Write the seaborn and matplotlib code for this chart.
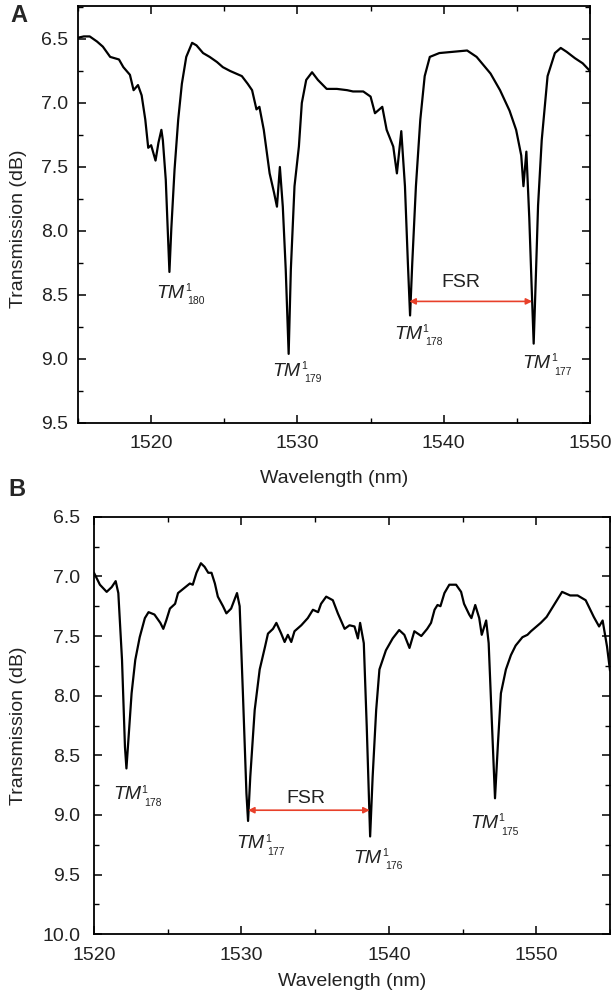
import numpy as np
import pandas as pd
import matplotlib
matplotlib.use("Agg")
import matplotlib.pyplot as plt
from matplotlib.ticker import MultipleLocator, FormatStrFormatter
import seaborn as sns

# ---------------- data ----------------
wl_a = [1515.0, 1515.4, 1515.8, 1516.3, 1516.7, 1517.2, 1517.8, 1518.1, 1518.55, 1518.8,
        1519.1, 1519.35, 1519.6, 1519.8, 1520.0, 1520.3, 1520.5, 1520.7, 1520.8, 1521.0,
        1521.12, 1521.25, 1521.38, 1521.6, 1521.85, 1522.1, 1522.4, 1522.8, 1523.1, 1523.55,
        1524.0, 1524.5, 1524.9, 1525.4, 1525.8, 1526.2, 1526.6, 1526.9, 1527.2, 1527.4,
        1527.7, 1528.1, 1528.4, 1528.6, 1528.8, 1529.0, 1529.2, 1529.4, 1529.55, 1529.8,
        1530.1, 1530.3, 1530.6, 1531.0, 1531.4, 1532.0, 1532.7, 1533.4, 1533.8, 1534.5,
        1535.0, 1535.3, 1535.8, 1536.1, 1536.55, 1536.8, 1537.1, 1537.35, 1537.55, 1537.7,
        1537.85, 1538.1, 1538.4, 1538.7, 1539.05, 1539.7, 1540.65, 1541.6, 1542.25, 1543.2,
        1543.85, 1544.5, 1544.95, 1545.3, 1545.45, 1545.65, 1545.85, 1546.0, 1546.15, 1546.3,
        1546.45, 1546.7, 1547.1, 1547.6, 1548.0, 1548.4, 1548.97, 1549.5, 1550.0]
tr_a = [6.49, 6.48, 6.48, 6.52, 6.56, 6.64, 6.66, 6.72, 6.78, 6.90,
        6.86, 6.94, 7.13, 7.35, 7.33, 7.45, 7.31, 7.21, 7.29, 7.60,
        7.95, 8.32, 7.98, 7.52, 7.13, 6.85, 6.64, 6.53, 6.55, 6.61,
        6.64, 6.68, 6.72, 6.75, 6.77, 6.79, 6.85, 6.90, 7.05, 7.03,
        7.21, 7.55, 7.70, 7.81, 7.50, 7.81, 8.30, 8.96, 8.30, 7.65,
        7.34, 7.00, 6.82, 6.76, 6.82, 6.89, 6.89, 6.90, 6.91, 6.91,
        6.95, 7.08, 7.03, 7.21, 7.34, 7.55, 7.22, 7.65, 8.25, 8.66,
        8.25, 7.65, 7.13, 6.79, 6.64, 6.61, 6.60, 6.59, 6.64, 6.77,
        6.90, 7.06, 7.21, 7.41, 7.65, 7.38, 7.90, 8.40, 8.88, 8.35,
        7.80, 7.29, 6.79, 6.61, 6.57, 6.60, 6.65, 6.69, 6.75]

wl_b = [1520.0, 1520.4, 1520.86, 1521.2, 1521.47, 1521.65, 1521.9, 1522.1, 1522.2, 1522.3,
        1522.55, 1522.8, 1523.1, 1523.45, 1523.7, 1524.1, 1524.5, 1524.7, 1524.9, 1525.15,
        1525.5, 1525.7, 1526.2, 1526.5, 1526.7, 1526.95, 1527.25, 1527.5, 1527.75, 1527.97,
        1528.2, 1528.4, 1528.75, 1528.98, 1529.3, 1529.7, 1529.88, 1530.1, 1530.34, 1530.45,
        1530.6, 1530.9, 1531.24, 1531.6, 1531.8, 1532.14, 1532.37, 1532.7, 1532.93, 1533.15,
        1533.38, 1533.6, 1534.06, 1534.5, 1534.85, 1535.2, 1535.4, 1535.75, 1536.2, 1536.54,
        1537.0, 1537.33, 1537.67, 1537.9, 1538.05, 1538.3, 1538.5, 1538.73, 1538.9, 1539.14,
        1539.36, 1539.8, 1540.26, 1540.7, 1541.05, 1541.4, 1541.73, 1542.2, 1542.6, 1542.86,
        1543.1, 1543.3, 1543.5, 1543.77, 1544.1, 1544.56, 1544.9, 1545.1, 1545.45, 1545.6,
        1545.86, 1546.13, 1546.3, 1546.6, 1546.77, 1547.0, 1547.2, 1547.4, 1547.6, 1547.94,
        1548.28, 1548.6, 1549.06, 1549.4, 1549.64, 1550.3, 1550.7, 1551.2, 1551.75, 1552.3,
        1552.8, 1553.35, 1553.9, 1554.26, 1554.5, 1554.8, 1555.0]
tr_b = [6.97, 7.07, 7.13, 7.09, 7.04, 7.14, 7.70, 8.43, 8.61, 8.43,
        7.98, 7.70, 7.51, 7.35, 7.30, 7.32, 7.39, 7.44, 7.37, 7.27,
        7.23, 7.14, 7.09, 7.06, 7.07, 6.97, 6.89, 6.92, 6.97, 6.97,
        7.06, 7.17, 7.25, 7.31, 7.27, 7.14, 7.25, 7.98, 8.82, 9.05,
        8.68, 8.12, 7.78, 7.59, 7.48, 7.44, 7.39, 7.48, 7.55, 7.49,
        7.55, 7.46, 7.41, 7.35, 7.28, 7.30, 7.23, 7.17, 7.20, 7.31,
        7.44, 7.41, 7.42, 7.52, 7.39, 7.56, 8.26, 9.18, 8.68, 8.12,
        7.78, 7.62, 7.52, 7.45, 7.49, 7.60, 7.46, 7.50, 7.44, 7.39,
        7.28, 7.24, 7.25, 7.14, 7.07, 7.07, 7.13, 7.23, 7.32, 7.35,
        7.24, 7.35, 7.49, 7.37, 7.56, 8.26, 8.86, 8.40, 7.98, 7.78,
        7.66, 7.58, 7.51, 7.49, 7.46, 7.39, 7.34, 7.24, 7.13, 7.16,
        7.16, 7.20, 7.34, 7.42, 7.37, 7.59, 7.79]

# mode labels: (x of left edge, baseline y, subscript order number)
modes_a_x = [1520.35, 1528.3, 1536.6, 1545.4]
modes_a_y = [8.52, 9.13, 8.84, 9.07]
modes_a_n = ["180", "179", "178", "177"]
modes_b_x = [1521.3, 1529.65, 1537.6, 1545.5]
modes_b_y = [8.87, 9.28, 9.40, 9.11]
modes_b_n = ["178", "177", "176", "175"]

# FSR arrows: (start, end, y) and label position
fsr_a = (1537.65, 1546.05, 8.55)
fsr_a_text = (1541.2, 8.435)
fsr_b = (1530.45, 1538.7, 8.96)
fsr_b_text = (1534.4, 8.90)

yticks_a = [6.5, 7.0, 7.5, 8.0, 8.5, 9.0, 9.5]
yticks_b = [6.5, 7.0, 7.5, 8.0, 8.5, 9.0, 9.5, 10.0]
xticks_a = [1520, 1530, 1540, 1550]
xticks_b = [1520, 1530, 1540, 1550]

# ---------------- style ----------------
sns.set_theme(style="ticks")
plt.rcParams["font.family"] = ["Liberation Sans", "DejaVu Sans"]
plt.rcParams["axes.linewidth"] = 1.3
plt.rcParams["xtick.major.width"] = 1.1
plt.rcParams["ytick.major.width"] = 1.1
plt.rcParams["xtick.minor.width"] = 1.0
plt.rcParams["ytick.minor.width"] = 1.0

FS = 14
RED = "#e8402a"

fig = plt.figure(figsize=(6.11, 9.99), dpi=100)
W, H = 611.0, 999.0
ax1 = fig.add_axes([78 / W, 1 - 423 / H, 512 / W, 417.3 / H])
ax2 = fig.add_axes([94 / W, 1 - 934.3 / H, 516 / W, 417.6 / H])

df_a = pd.DataFrame({"wl": wl_a, "tr": tr_a})
df_b = pd.DataFrame({"wl": wl_b, "tr": tr_b})
sns.lineplot(data=df_a, x="wl", y="tr", ax=ax1, color="black", linewidth=1.6,
             estimator=None, sort=False)
sns.lineplot(data=df_b, x="wl", y="tr", ax=ax2, color="black", linewidth=1.6,
             estimator=None, sort=False)


def style_axes(ax, xlim, ylim, xticks, yticks, ypad):
    ax.set_xlim(*xlim)
    ax.set_ylim(*ylim)
    ax.set_xticks(xticks)
    ax.set_yticks(yticks)
    ax.xaxis.set_minor_locator(MultipleLocator(5))
    ax.yaxis.set_minor_locator(MultipleLocator(0.25))
    ax.yaxis.set_major_formatter(FormatStrFormatter("%.1f"))
    ax.tick_params(which="both", direction="in", top=True, right=True,
                   colors="black", labelsize=FS, labelcolor="#222222")
    ax.tick_params(which="major", length=6)
    ax.tick_params(which="minor", length=3.5)
    ax.tick_params(axis="x", which="major", pad=9)
    ax.tick_params(axis="y", which="major", pad=ypad)
    for s in ax.spines.values():
        s.set_visible(True)
        s.set_color("black")
        s.set_linewidth(1.3)
    ax.set_facecolor("white")


style_axes(ax1, (1515, 1550), (9.5, 6.24), xticks_a, yticks_a, 7)
style_axes(ax2, (1520, 1555), (10.0, 6.5), xticks_b, yticks_b, 10)

for ax, lx, ly, lyy in [(ax1, -0.10, 0.465, -0.112), (ax2, -0.13, 0.5, -0.093)]:
    ax.set_xlabel("Wavelength (nm)", fontsize=FS, color="#222222")
    ax.set_ylabel("Transmission (dB)", fontsize=FS, color="#222222")
    ax.yaxis.set_label_coords(lx, ly)
    ax.xaxis.set_label_coords(0.5, lyy)


def mode_label(ax, x, y, n):
    ax.text(x, y, "TM", fontsize=FS, style="italic", ha="left", va="baseline",
            color="#222222")
    ax.annotate("1", xy=(x, y), xytext=(20.5, 4.8), textcoords="offset points",
                fontsize=7.5, ha="left", va="baseline", color="#222222")
    ax.annotate(n, xy=(x, y), xytext=(22.5, -4.8), textcoords="offset points",
                fontsize=7.5, ha="left", va="baseline", color="#222222")


for x, y, n in zip(modes_a_x, modes_a_y, modes_a_n):
    mode_label(ax1, x, y, n)
for x, y, n in zip(modes_b_x, modes_b_y, modes_b_n):
    mode_label(ax2, x, y, n)

for ax, (x0, x1, yy), (tx, ty) in [(ax1, fsr_a, fsr_a_text), (ax2, fsr_b, fsr_b_text)]:
    ax.annotate("", xy=(x1, yy), xytext=(x0, yy),
                arrowprops=dict(arrowstyle="<|-|>", color=RED, lw=1.2,
                                mutation_scale=9, shrinkA=0, shrinkB=0))
    ax.text(tx, ty, "FSR", fontsize=FS, ha="center", va="baseline", color="#222222")

fig.text(10 / W, 1 - 4 / H, "A", fontsize=17, fontweight="bold", ha="left", va="top")
fig.text(8 / W, 1 - 478 / H, "B", fontsize=17, fontweight="bold", ha="left", va="top")

fig.savefig("out.png", dpi=100, facecolor="white")
